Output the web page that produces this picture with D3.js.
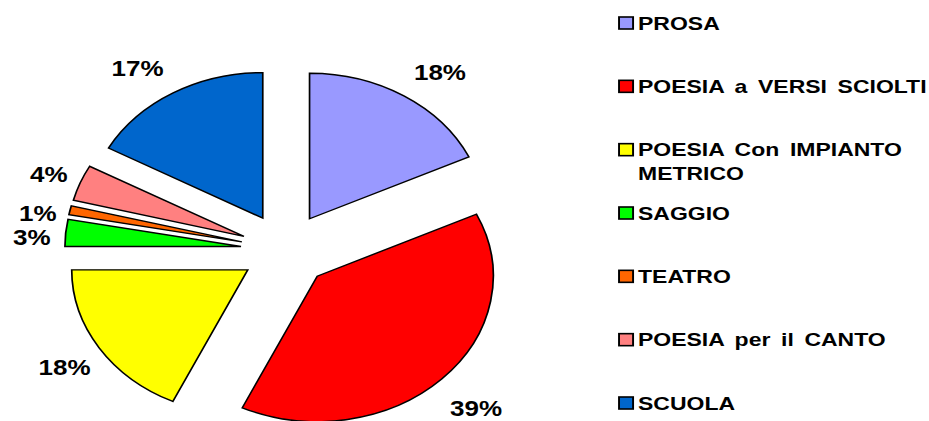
<!DOCTYPE html>
<html>
<head>
<meta charset="utf-8">
<script src="https://cdn.jsdelivr.net/npm/d3@7/dist/d3.min.js"></script>
<style>
  html, body { margin: 0; padding: 0; background: #fff; }
  svg { display: block; }
  text { font-family: "Liberation Sans", Arial, sans-serif; font-weight: bold; fill: #000; }
</style>
</head>
<body>
<script>
// Categories, shares (percent) and slice colours
const categories = [
  "PROSA",
  "POESIA a VERSI SCIOLTI",
  "POESIA Con IMPIANTO METRICO",
  "SAGGIO",
  "TEATRO",
  "POESIA per il CANTO",
  "SCUOLA"
];
const shares = [18, 39, 18, 3, 1, 4, 17];
const colors = ["#9999FF", "#FF0000", "#FFFF00", "#00FF00", "#FF6600", "#FF8080", "#0066CC"];

// Layout
const W = 929, H = 421;
const SX = 1.21;                 // horizontal stretch of the whole drawing
const cx = 236, cy = 250;        // pie centre (unstretched units)
const R = 145.5, explode = 37;   // radius and explosion distance
const labelRadius = 198;
const labelSize = 21.5, legendSize = 19;
// small shifts so the thin-slice labels do not collide
const labelShift = { "SAGGIO": [3, 8.5], "TEATRO": [4, 11], "POESIA per il CANTO": [4, 5],
                     "POESIA a VERSI SCIOLTI": [-4, 7], "POESIA Con IMPIANTO METRICO": [6, 0] };

const data = categories.map((c, i) => ({ cat: c, v: shares[i], color: colors[i] }));

const svg = d3.select("body").append("svg").attr("width", W).attr("height", H);
const g = svg.append("g").attr("transform", `scale(${SX},1)`);

const pie = d3.pie().sort(null).value(d => d.v);
const arcs = pie(data);
const arc = d3.arc().innerRadius(0).outerRadius(R);
const mid = d => (d.startAngle + d.endAngle) / 2;

const pieG = g.append("g").attr("transform", `translate(${cx},${cy})`);

pieG.selectAll("path.slice")
  .data(arcs)
  .join("path")
  .attr("class", "slice")
  .attr("transform", d => `translate(${explode * Math.sin(mid(d))},${-explode * Math.cos(mid(d))})`)
  .attr("d", arc)
  .attr("fill", d => d.data.color)
  .attr("stroke", "#000")
  .attr("stroke-width", 1.4)
  .attr("stroke-linejoin", "miter");

// Percentage labels placed just outside each exploded slice
const clamp = v => Math.max(-1, Math.min(1, v));
const labels = pieG.selectAll("text.pct")
  .data(arcs)
  .join("text")
  .attr("class", "pct")
  .attr("font-size", labelSize)
  .attr("text-anchor", "middle")
  .text(d => `${d.data.v}%`);

labels.each(function (d) {
  const a = mid(d);
  const w = this.getComputedTextLength();
  const h = 22;
  const ax = labelRadius * Math.sin(a), ay = -labelRadius * Math.cos(a);
  const shift = labelShift[d.data.cat] || [0, 0];
  const x = ax + (w / 2) * clamp(2 * Math.sin(a)) + shift[0];
  const y = ay - (h / 2) * clamp(2 * Math.cos(a)) + shift[1];
  d3.select(this).attr("x", x).attr("y", y + 0.358 * labelSize);
});

// Legend
const legendX = 511.6, legendTextX = 527.3, legendMaxW = 252;
const rowY = d3.scalePoint().domain(categories).range([23, 403]);

const legend = g.append("g");
const items = legend.selectAll("g.item")
  .data(data)
  .join("g")
  .attr("class", "item")
  .attr("transform", d => `translate(0,${rowY(d.cat)})`);

items.append("rect")
  .attr("x", legendX)
  .attr("y", -6)
  .attr("width", 11.6)
  .attr("height", 12)
  .attr("fill", d => d.color)
  .attr("stroke", "#000")
  .attr("stroke-width", 1.6);

items.append("text")
  .attr("font-size", legendSize)
  .attr("word-spacing", 3.5)
  .attr("x", legendTextX)
  .attr("y", 0.358 * legendSize)
  .each(function (d) {
    const t = d3.select(this);
    const words = d.cat.split(" ");
    let line = [];
    let tspan = t.append("tspan").attr("x", legendTextX).attr("dy", 0);
    words.forEach(word => {
      line.push(word);
      tspan.text(line.join(" "));
      if (tspan.node().getComputedTextLength() > legendMaxW && line.length > 1) {
        line.pop();
        tspan.text(line.join(" "));
        line = [word];
        tspan = t.append("tspan").attr("x", legendTextX).attr("dy", 24).text(word);
      }
    });
  });
</script>
</body>
</html>
